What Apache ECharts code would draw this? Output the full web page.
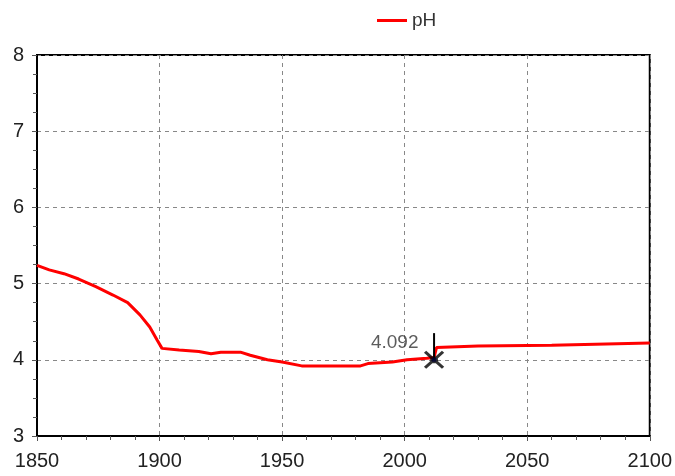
<!DOCTYPE html>
<html lang="en">
<head>
    <meta charset="UTF-8">
    <title>pH</title>
    <script src="https://cdn.jsdelivr.net/npm/echarts@6/dist/echarts.min.js"></script>
    <style>
        html, body { margin: 0; padding: 0; background: #fff; }
    </style>
</head>
<body>
    <div id="mychart" style="width: 675px; height: 476px"></div>
<script>
    // years and pH values
    var years = [1850, 1855, 1861, 1867, 1874, 1881, 1887, 1892, 1896, 1899, 1901, 1908, 1916, 1921, 1925, 1933, 1937, 1944, 1950, 1958, 1970, 1982, 1985, 1995, 2001, 2009, 2012, 2013, 2030, 2060, 2100];
    var ph = [5.24, 5.18, 5.13, 5.06, 4.96, 4.85, 4.75, 4.59, 4.43, 4.26, 4.15, 4.13, 4.11, 4.08, 4.10, 4.10, 4.06, 4.00, 3.97, 3.92, 3.92, 3.92, 3.95, 3.97, 4.00, 4.02, 4.03, 4.16, 4.18, 4.19, 4.22];
    // marked point
    var markYear = 2012;
    var markValue = 4.0;
    var markLabel = '4.092';
    var markTop = 4.35;

    var lineData = years.map(function (y, i) { return [y, ph[i]]; });

    var mychart = echarts.init(document.getElementById("mychart"));
    mychart.setOption({
        animation: false,
        textStyle: { fontFamily: 'Liberation Sans, Arial, sans-serif' },
        legend: {
            left: 372,
            top: 6,
            itemWidth: 30,
            itemHeight: 3,
            itemGap: 12,
            textStyle: { fontSize: 19, color: '#333' },
            data: [{ name: 'pH', icon: 'rect' }]
        },
        grid: {
            left: 37, right: 25, top: 55, bottom: 40,
            show: true, borderColor: '#000', borderWidth: 2
        },
        xAxis: {
            type: 'value',
            min: 1850, max: 2100, interval: 50,
            axisLine: { lineStyle: { color: '#000', width: 2 } },
            axisTick: { length: 5, lineStyle: { color: '#555' } },
            minorTick: { show: true, splitNumber: 5, length: 4, lineStyle: { color: '#555' } },
            axisLabel: {
                fontSize: 20, color: '#222', margin: 15,
                formatter: function (v) { return String(v); }
            },
            splitLine: { show: true, lineStyle: { type: [4, 4], color: '#888', width: 1 } }
        },
        yAxis: {
            type: 'value',
            min: 3, max: 8, interval: 1,
            axisLine: { show: true, lineStyle: { color: '#000', width: 2 } },
            axisTick: { show: true, length: 5, lineStyle: { color: '#555' } },
            minorTick: { show: true, splitNumber: 4, length: 4, lineStyle: { color: '#555' } },
            axisLabel: { fontSize: 20, color: '#222', margin: 13 },
            splitLine: { show: true, lineStyle: { type: [4, 4], color: '#888', width: 1 } }
        },
        series: [
            {
                name: 'pH',
                type: 'line',
                data: lineData,
                symbol: 'none',
                color: '#ff0000',
                lineStyle: { width: 3, color: '#ff0000' },
                z: 3
            },
            {
                // vertical cursor line above the marker
                name: 'cursor',
                type: 'line',
                data: [[markYear, markValue], [markYear, markTop]],
                symbol: 'none',
                silent: true,
                lineStyle: { width: 2, color: '#000' },
                z: 4
            },
            {
                name: 'mark',
                type: 'scatter',
                data: [[markYear, markValue]],
                symbol: 'path://M0,0 L2,2 M2,0 L0,2 M0.75,0.75 L1.25,0.75 L1.25,1.25 L0.75,1.25 Z',
                symbolSize: [18, 16],
                itemStyle: { color: '#0000ff', borderColor: '#000', borderWidth: 3 },
                label: {
                    show: true,
                    formatter: markLabel,
                    position: 'left',
                    offset: [0, -17],
                    fontSize: 19,
                    color: '#333'
                },
                z: 5
            }
        ]
    });
</script>
</body>
</html>
